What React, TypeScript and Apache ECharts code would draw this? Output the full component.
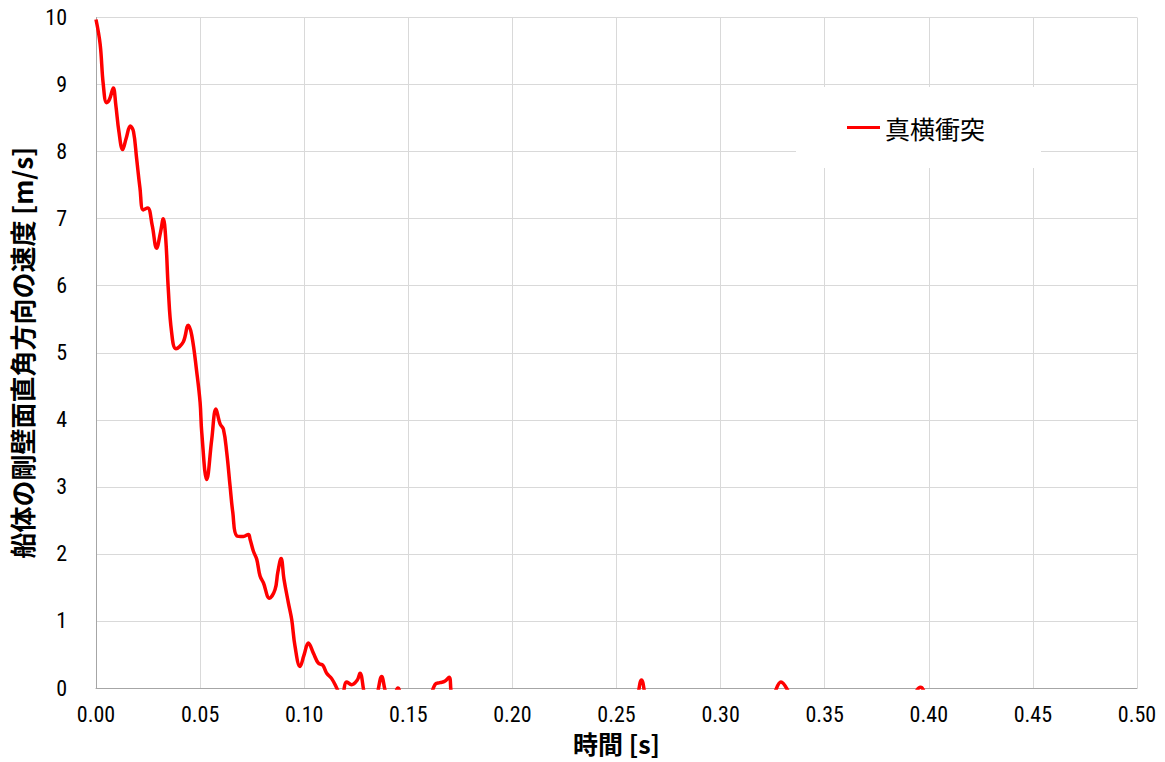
import React, { useEffect, useRef } from "react";
import * as echarts from "echarts";

const seriesName = "真横衝突";
const xAxisTitle = "時間 [s]";
const yAxisTitle = "船体の剛壁面直角方向の速度 [m/s]";

const timeValues: number[] = [
  0.0, 0.002, 0.0035, 0.0051, 0.0065, 0.0083, 0.0095, 0.011, 0.0128, 0.0145,
  0.0165, 0.018, 0.0195, 0.0211, 0.0227, 0.0248, 0.027, 0.0291, 0.031, 0.0323,
  0.0335, 0.0347, 0.0363, 0.0384, 0.0419, 0.0443, 0.046, 0.0484, 0.05, 0.0508,
  0.0532, 0.0556, 0.0576, 0.0596, 0.0612, 0.0628, 0.0644, 0.0657, 0.0676, 0.0708,
  0.0732, 0.074, 0.0756, 0.0772, 0.0788, 0.0804, 0.0833, 0.086, 0.0873, 0.0889,
  0.0903, 0.0924, 0.094, 0.0956, 0.098, 0.0999, 0.102, 0.1044, 0.1068, 0.1089,
  0.1108, 0.1132, 0.1156, 0.118, 0.1204, 0.1228, 0.1255, 0.1268, 0.129, 0.132,
  0.135, 0.1372, 0.139, 0.142, 0.145, 0.148, 0.155, 0.16, 0.1628, 0.1652,
  0.1675, 0.1696, 0.1708, 0.175, 0.19, 0.21, 0.23, 0.245, 0.255, 0.2595,
  0.262, 0.2645, 0.269, 0.28, 0.3, 0.315, 0.32, 0.3255, 0.329, 0.3325,
  0.338, 0.35, 0.37, 0.385, 0.39, 0.396, 0.401, 0.41, 0.42,
];

const velocityValues: number[] = [
  9.97, 9.6, 9.0, 8.73, 8.78, 8.95, 8.7, 8.3, 8.03, 8.2,
  8.38, 8.3, 7.9, 7.46, 7.13, 7.16, 6.9, 6.56, 6.8, 7.0,
  6.7, 5.96, 5.31, 5.06, 5.16, 5.41, 5.26, 4.71, 4.26, 3.81,
  3.11, 3.71, 4.16, 3.94, 3.86, 3.51, 3.01, 2.62, 2.27, 2.26,
  2.29, 2.22, 2.04, 1.92, 1.67, 1.57, 1.34, 1.47, 1.72, 1.93,
  1.62, 1.27, 1.02, 0.62, 0.32, 0.49, 0.67, 0.52, 0.37, 0.34,
  0.22, 0.14, 0.0, -0.15, 0.09, 0.05, 0.12, 0.22, -0.1, -0.4,
  -0.1, 0.17, -0.05, -0.3, 0.0, -0.3, -0.5, -0.2, 0.05, 0.08,
  0.1, 0.16, -0.1, -0.5, -0.6, -0.5, -0.6, -0.5, -0.5, -0.2,
  0.12, -0.2, -0.5, -0.6, -0.5, -0.5, -0.4, -0.1, 0.09, -0.05,
  -0.4, -0.5, -0.5, -0.4, -0.3, 0.01, -0.3, -0.5, -0.5,
];

const xTickInterval = 0.05;
const yTickInterval = 1;

const tickFont = "'Roboto Condensed', 'DejaVu Sans Condensed', sans-serif";

export default function App() {
  const ref = useRef<HTMLDivElement>(null);

  useEffect(() => {
    if (!ref.current) return;
    const chart = echarts.init(ref.current, undefined, { renderer: "svg" });
    const data = timeValues.map((t, i) => [t, velocityValues[i]]);
    chart.setOption({
      animation: false,
      backgroundColor: "#ffffff",
      grid: { left: 96, right: 28, top: 17.5, bottom: 74, containLabel: false },
      legend: {
        show: true,
        left: 796,
        top: 87,
        padding: [28, 56, 28, 51],
        backgroundColor: "#ffffff",
        icon: "rect",
        itemWidth: 33,
        itemHeight: 3,
        textStyle: {
          fontFamily: "Noto Sans CJK JP",
          fontSize: 25,
          color: "#000000",
        },
        data: [seriesName],
      },
      xAxis: {
        type: "value",
        min: 0,
        max: 0.5,
        interval: xTickInterval,
        name: xAxisTitle,
        nameLocation: "middle",
        nameGap: 42,
        nameTextStyle: {
          fontFamily: "Noto Sans CJK JP",
          fontWeight: "bold",
          fontSize: 25,
          color: "#000000",
        },
        axisLine: { show: true, lineStyle: { color: "#a6a6a6", width: 1 } },
        axisTick: { show: false },
        splitLine: { show: true, lineStyle: { color: "#d9d9d9", width: 1 } },
        axisLabel: {
          margin: 15,
          fontFamily: tickFont,
          fontSize: 22,
          color: "#000000",
          formatter: (v: number) => v.toFixed(2),
        },
      },
      yAxis: {
        type: "value",
        min: 0,
        max: 10,
        interval: yTickInterval,
        name: yAxisTitle,
        nameLocation: "middle",
        nameGap: 57,
        nameTextStyle: {
          fontFamily: "Noto Sans CJK JP",
          fontWeight: "bold",
          fontSize: 26,
          color: "#000000",
        },
        axisLine: { show: true, lineStyle: { color: "#a6a6a6", width: 1 } },
        axisTick: { show: false },
        splitLine: { show: true, lineStyle: { color: "#d9d9d9", width: 1 } },
        axisLabel: {
          margin: 29,
          fontFamily: tickFont,
          fontSize: 22,
          color: "#000000",
        },
      },
      series: [
        {
          name: seriesName,
          type: "line",
          data,
          smooth: 0.4,
          showSymbol: false,
          symbol: "none",
          clip: true,
          lineStyle: { color: "#ff0000", width: 3.5 },
          itemStyle: { color: "#ff0000" },
        },
      ],
    });
    return () => chart.dispose();
  }, []);

  return (
    <div
      ref={ref}
      style={{ position: "fixed", left: 0, top: 0, width: 1165, height: 762 }}
    />
  );
}
